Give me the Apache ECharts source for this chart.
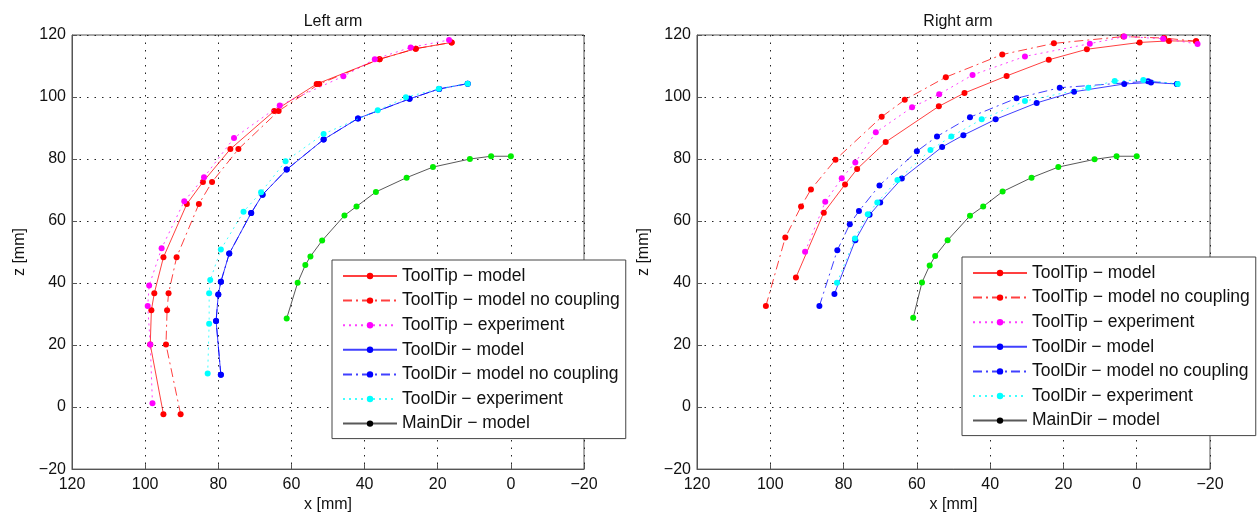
<!DOCTYPE html>
<html>
<head>
<meta charset="utf-8">
<script src="https://cdn.jsdelivr.net/npm/echarts@6/dist/echarts.min.js"></script>
<style>
  html, body { margin: 0; padding: 0; background: #fff; }
  #chart { width: 1257px; height: 518px; }
</style>
</head>
<body>
<div id="chart"></div>
<script>
// Tick values shared by both panels (x axis drawn reversed)
const xTicks = [120, 100, 80, 60, 40, 20, 0, -20];
const zTicks = [-20, 0, 20, 40, 60, 80, 100, 120];

const seriesNames = [
  'ToolTip \u2212 model',
  'ToolTip \u2212 model no coupling',
  'ToolTip \u2212 experiment',
  'ToolDir \u2212 model',
  'ToolDir \u2212 model no coupling',
  'ToolDir \u2212 experiment',
  'MainDir \u2212 model'
];

// Left arm trajectories, [x, z] in mm
const leftToolTipModel = [[95,-2.3],[98.6,20.2],[98.3,31.2],[97.5,36.7],[95,48.3],[88.6,65.5],[84.2,72.6],[76.7,83.2],[64.7,95.5],[53.1,104.2],[35.9,112.2],[26,115.6],[16.2,117.6]];
const leftToolTipNoCoupling = [[90.3,-2.3],[94.3,20.2],[94,31.2],[93.6,36.7],[91.4,48.3],[85.3,65.5],[81.7,72.6],[74.5,83.2],[63.5,95.5],[52.4,104.2],[35.9,112.2],[26,115.6],[16.2,117.6]];
const leftToolTipExperiment = [[98,1.2],[98.6,20.2],[99.3,32.6],[98.9,39.2],[95.5,51.2],[89.3,66.4],[83.9,74.1],[75.7,86.8],[63.2,97.3],[45.8,106.7],[37.2,112.2],[27.4,116],[16.9,118.4]];
const leftToolDirModel = [[79.3,10.4],[80.6,27.8],[80,36.3],[79.3,40.4],[77,49.5],[71,62.6],[67.9,68.5],[61.3,76.6],[51.2,86.3],[41.8,93.1],[27.7,99.4],[19.6,102.6],[11.8,104.3]];
const leftToolDirNoCoupling = [[79.3,10.4],[80.6,27.8],[80,36.3],[79.3,40.4],[77,49.5],[71,62.6],[67.9,68.5],[61.3,76.6],[51.2,86.3],[41.8,93.1],[27.7,99.4],[19.6,102.6],[11.8,104.3]];
const leftToolDirExperiment = [[82.9,10.8],[82.5,26.9],[82.5,36.7],[82.2,41],[79.3,50.8],[73.1,63],[68.3,69.3],[61.6,79.3],[51.2,88.1],[36.4,95.7],[28.7,99.9],[19.7,102.7],[11.8,104.3]];
const leftMainDirModel = [[61.3,28.6],[58.3,40.1],[56.2,45.8],[54.8,48.6],[51.6,53.7],[45.5,61.8],[42.2,64.7],[36.9,69.4],[28.5,74],[21.3,77.4],[11.2,80],[5.4,80.9],[0,80.9]];

// Right arm trajectories, [x, z] in mm
const rightToolTipModel = [[93,41.8],[85.4,62.7],[79.6,71.8],[76.3,76.8],[68.5,85.5],[54,97],[47,101.3],[35.5,106.8],[24,112],[13.6,115.4],[-0.8,117.6],[-8.8,118.1],[-16.2,118]];
const rightToolTipNoCoupling = [[101.2,32.6],[95.9,54.7],[91.6,64.7],[88.9,70.2],[82.2,79.8],[69.6,93.6],[63.3,99.1],[52.1,106.4],[36.7,113.7],[22.6,117.3],[3.6,119.5],[-7.5,119],[-16.2,118]];
const rightToolTipExperiment = [[90.5,50.1],[85,66.2],[80.5,73.8],[76.8,78.9],[71.2,88.6],[61.3,96.7],[53.9,100.9],[44.8,107.1],[30.5,113.1],[12.8,117.2],[3.4,119.5],[-7.2,118.8],[-16.6,117.1]];
const rightToolDirModel = [[82.5,36.5],[76.8,53.8],[72.9,62],[70,66],[64.1,73.7],[53.1,83.9],[47.3,87.7],[38.5,92.8],[27.3,98.1],[17.1,101.7],[3.4,104.2],[-3.9,104.7],[-11,104.2]];
const rightToolDirNoCoupling = [[86.6,32.6],[81.7,50.6],[78.3,59],[75.8,63.2],[70.2,71.5],[60,82.5],[54.5,87.3],[45.5,93.5],[32.8,99.6],[21,103],[-3.1,105.1],[-11,104.2]];
const rightToolDirExperiment = [[81.8,40.1],[76.9,54.4],[73.4,62.2],[70.8,66],[65.3,73.2],[56.3,82.9],[50.6,87.3],[42.3,92.8],[30.5,98.7],[13.2,103],[6,105.2],[-1.8,105.5],[-11.2,104.2]];
const rightMainDirModel = [[61,28.8],[58.6,40.2],[56.5,45.7],[55,48.7],[51.6,53.8],[45.5,61.7],[41.9,64.7],[36.6,69.5],[28.7,74],[21.4,77.4],[11.5,79.9],[5.5,80.9],[0,80.9]];

const FONT = '"Liberation Sans", Arial, sans-serif';
const DASH_DOT = [9, 4, 2, 4];
const DOTTED = [2, 4];

// line colour, marker colour, dash pattern per series
const styles = [
  { line: '#ff0000', mark: '#ff0000', type: 'solid' },
  { line: '#ff0000', mark: '#ff0000', type: DASH_DOT },
  { line: '#ff00ff', mark: '#ff00ff', type: DOTTED },
  { line: '#0000ff', mark: '#0000ff', type: 'solid' },
  { line: '#0000ff', mark: '#0000ff', type: DASH_DOT },
  { line: '#00ffff', mark: '#00ffff', type: DOTTED },
  { line: '#222222', mark: '#00ee00', type: 'solid' }
];

const leftData = [leftToolTipModel, leftToolTipNoCoupling, leftToolTipExperiment, leftToolDirModel, leftToolDirNoCoupling, leftToolDirExperiment, leftMainDirModel];
const rightData = [rightToolTipModel, rightToolTipNoCoupling, rightToolTipExperiment, rightToolDirModel, rightToolDirNoCoupling, rightToolDirExperiment, rightMainDirModel];

function buildSeries(dataSets, axisIndex) {
  return dataSets.map((d, i) => ({
    name: seriesNames[i],
    type: 'line',
    xAxisIndex: axisIndex,
    yAxisIndex: axisIndex,
    data: d,
    symbol: 'circle',
    symbolSize: 6,
    showAllSymbol: true,
    itemStyle: { color: styles[i].mark },
    lineStyle: { color: styles[i].line, width: 1, type: styles[i].type, opacity: 0.75 },
    z: 2 + i
  }));
}

const minusFmt = v => String(v).replace('-', '\u2212');

function xAxisFor(gridIndex) {
  return {
    type: 'value', gridIndex, inverse: true,
    min: -20, max: 120, interval: 20,
    name: 'x [mm]', nameLocation: 'middle', nameGap: 27,
    nameTextStyle: { fontFamily: FONT, fontSize: 16, color: '#111' },
    axisLine: { show: true, onZero: false, lineStyle: { color: '#555', width: 1 } },
    axisTick: { show: true, inside: true, length: 5, lineStyle: { color: '#555' } },
    axisLabel: { fontFamily: FONT, fontSize: 16, color: '#111', margin: 7, formatter: minusFmt,
                 customValues: xTicks },
    splitLine: { show: true, lineStyle: { color: '#222', width: 1, type: [1.5, 6] } }
  };
}

function yAxisFor(gridIndex, gap) {
  return {
    type: 'value', gridIndex,
    min: -20, max: 120, interval: 20,
    name: 'z [mm]', nameLocation: 'middle', nameGap: gap, nameRotate: 90,
    nameTextStyle: { fontFamily: FONT, fontSize: 16, color: '#111' },
    axisLine: { show: true, onZero: false, lineStyle: { color: '#555', width: 1 } },
    axisTick: { show: true, inside: true, length: 5, lineStyle: { color: '#555' } },
    axisLabel: { fontFamily: FONT, fontSize: 16, color: '#111', margin: 6, formatter: minusFmt,
                 customValues: zTicks },
    splitLine: { show: true, lineStyle: { color: '#222', width: 1, type: [1.5, 6] } }
  };
}

function legendFor(left, top) {
  return {
    orient: 'vertical', left, top,
    itemWidth: 54, itemHeight: 8, itemGap: 6.6,
    padding: [7, 6, 6, 10],
    borderColor: '#444', borderWidth: 1,
    backgroundColor: '#ffffff',
    textStyle: { fontFamily: FONT, fontSize: 17.5, color: '#111', lineHeight: 18 },
    data: seriesNames.map((n, i) => i === 6 ? { name: n, itemStyle: { color: '#000' } } : { name: n })
  };
}

const chart = echarts.init(document.getElementById('chart'), null, { renderer: 'canvas' });
chart.setOption({
  animation: false,
  backgroundColor: '#ffffff',
  title: [
    { text: 'Left arm', left: 328, top: 9, textAlign: 'center',
      textStyle: { fontFamily: FONT, fontSize: 16, fontWeight: 'normal', color: '#111' } },
    { text: 'Right arm', left: 953, top: 9, textAlign: 'center',
      textStyle: { fontFamily: FONT, fontSize: 16, fontWeight: 'normal', color: '#111' } }
  ],
  grid: [
    { left: 72, top: 35, width: 512, height: 435, show: true, borderColor: '#555', borderWidth: 1, backgroundColor: 'transparent' },
    { left: 697, top: 35, width: 513, height: 435, show: true, borderColor: '#555', borderWidth: 1, backgroundColor: 'transparent' }
  ],
  xAxis: [xAxisFor(0), xAxisFor(1)],
  yAxis: [yAxisFor(0, 44), yAxisFor(1, 45)],
  legend: [legendFor(332, 260), legendFor(962, 257)],
  series: buildSeries(leftData, 0).concat(buildSeries(rightData, 1))
});
</script>
</body>
</html>
